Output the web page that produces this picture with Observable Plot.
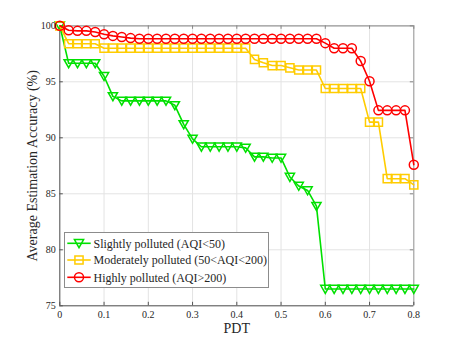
<!DOCTYPE html>
<html><head><meta charset="utf-8">
<script src="https://cdn.jsdelivr.net/npm/d3@7"></script>
<script src="https://cdn.jsdelivr.net/npm/@observablehq/plot@0.6"></script>
<style>
body{margin:0;background:#fff;}
#wrap{position:relative;width:457px;height:343px;}
#legend{position:absolute;left:64px;top:232px;width:205px;height:56px;}
</style></head><body><div id="wrap"></div>
<script>
const pdt = [0,0.02,0.04,0.06,0.08,0.1,0.12,0.14,0.16,0.18,0.2,0.22,0.24,0.26,0.28,0.3,0.32,0.34,0.36,0.38,0.4,0.42,0.44,0.46,0.48,0.5,0.52,0.54,0.56,0.58,0.6,0.62,0.64,0.66,0.68,0.7,0.72,0.74,0.76,0.78,0.8];
const slightly = [100,96.65,96.65,96.65,96.65,95.5,93.7,93.3,93.3,93.3,93.3,93.3,93.3,92.9,91.2,89.9,89.2,89.2,89.2,89.2,89.2,89.1,88.3,88.3,88.2,88.2,86.5,85.7,85.3,83.9,76.5,76.5,76.5,76.5,76.5,76.5,76.5,76.5,76.5,76.5,76.5];
const moderately = [100,98.4,98.4,98.4,98.4,98.0,98.0,98.0,98.0,98.0,98.0,98.0,98.0,98.0,98.0,98.0,98.0,98.0,98.0,98.0,98.0,98.0,97.0,96.7,96.45,96.45,96.25,96.05,96.05,96.05,94.4,94.4,94.4,94.4,94.4,91.4,91.4,86.35,86.35,86.35,85.8];
const highly = [100,99.6,99.55,99.55,99.45,99.25,99.1,99.0,98.9,98.85,98.85,98.85,98.85,98.85,98.85,98.85,98.85,98.85,98.85,98.85,98.85,98.85,98.85,98.85,98.85,98.85,98.85,98.85,98.85,98.85,98.45,98.0,98.0,98.0,96.85,95.05,92.45,92.45,92.45,92.45,87.6];
const seriesNames = ["Slightly polluted (AQI<50)", "Moderately polluted (50<AQI<200)", "Highly polluted (AQI>200)"];
const seriesColors = ["#00e000", "#ffcc00", "#ff0000"];
const xTicks = [0,0.1,0.2,0.3,0.4,0.5,0.6,0.7,0.8];
const yTicks = [75,80,85,90,95,100];
const xLabel = "PDT";
const yLabel = "Average Estimation Accuracy (%)";

const triDown = {draw(ctx, size){ const r = Math.sqrt(size/Math.PI); ctx.moveTo(-r, -0.8*r); ctx.lineTo(r, -0.8*r); ctx.lineTo(0, 0.95*r); ctx.closePath(); }};
const symbols = [triDown, d3.symbolSquare, d3.symbolCircle];
const radii = [4.6, 4.6, 4.5];

const W = 457, H = 343;
const mL = 59.3, mR = 43.7, mT = 25.3, mB = 37.7;
const iw = W - mL - mR, ih = H - mT - mB;
const tl = 3.5;

const allSeries = [slightly, moderately, highly];
const tables = allSeries.map((vals, s) => pdt.map((x, i) => ({x, y: vals[i], s})));

const marks = [
  Plot.gridX(xTicks, {stroke: "#e3e3e3", strokeOpacity: 1}),
  Plot.gridY(yTicks, {stroke: "#e3e3e3", strokeOpacity: 1}),
  Plot.ruleX([xTicks[xTicks.length-1]], {stroke: "#9a9a9a"}),
  Plot.ruleY([yTicks[yTicks.length-1]], {stroke: "#9a9a9a", strokeWidth: 1.2}),
  Plot.ruleX([xTicks[0]], {stroke: "#555"}),
  Plot.ruleY([yTicks[0]], {stroke: "#555"}),
  Plot.tickX(xTicks, {x: d => d, insetTop: ih - tl, stroke: "#555"}),
  Plot.tickX(xTicks, {x: d => d, insetBottom: ih - tl, stroke: "#888"}),
  Plot.tickY(yTicks, {y: d => d, insetRight: iw - tl, stroke: "#555"}),
  Plot.tickY(yTicks, {y: d => d, insetLeft: iw - tl, stroke: "#888"}),
];
tables.forEach((t, s) => {
  marks.push(Plot.line(t, {x: "x", y: "y", stroke: seriesColors[s], strokeWidth: 1.6}));
  marks.push(Plot.dot(t, {x: "x", y: "y", stroke: seriesColors[s], fill: "none", strokeWidth: 1.5, r: radii[s], symbol: symbols[s]}));
});
marks.push(
  Plot.axisX({ticks: xTicks, tickSize: 0, tickPadding: 5, tickFormat: d => String(d), label: null}),
  Plot.axisY({ticks: yTicks, tickSize: 0, tickPadding: 4, tickFormat: d => String(d), label: null}),
  Plot.text([xLabel], {text: d => d, frameAnchor: "bottom", textAnchor: "middle", lineAnchor: "middle", dy: 22.5, fontSize: 14, fill: "#262626"}),
  Plot.text([yLabel], {text: d => d, frameAnchor: "left", textAnchor: "middle", lineAnchor: "middle", rotate: -90, dx: -27.3, fontSize: 14, fill: "#262626"})
);

const chart = Plot.plot({
  width: W, height: H,
  marginLeft: mL, marginRight: mR, marginTop: mT, marginBottom: mB,
  x: {domain: [0, 0.8]},
  y: {domain: [75, 100]},
  style: {fontFamily: "'Liberation Serif', 'Times New Roman', serif", fontSize: "10px", color: "#262626", background: "#fff", overflow: "visible"},
  marks
});
const wrap = document.getElementById("wrap");
wrap.appendChild(chart);

// legend overlay
const lg = d3.select(wrap).append("div").attr("id", "legend");
const svg = lg.append("svg").attr("width", 205).attr("height", 56)
  .style("font-family", "'Liberation Serif', 'Times New Roman', serif").style("overflow", "visible");
svg.append("rect").attr("x", 0.5).attr("y", 0.5).attr("width", 204).attr("height", 55)
  .attr("fill", "#fff").attr("stroke", "#8c8c8c").attr("stroke-width", 1);
const rows = [11.3, 28, 45.3];
seriesNames.forEach((name, s) => {
  const g = svg.append("g").attr("transform", `translate(0,${rows[s]})`);
  g.append("line").attr("x1", 3.3).attr("x2", 26.7).attr("y1", 0).attr("y2", 0)
    .attr("stroke", seriesColors[s]).attr("stroke-width", 1.6);
  g.append("path").attr("transform", "translate(15,0)")
    .attr("d", d3.symbol().type(symbols[s]).size(Math.PI * radii[s] * radii[s])())
    .attr("fill", "none").attr("stroke", seriesColors[s]).attr("stroke-width", 1.5);
  g.append("text").attr("x", 29.5).attr("y", 0).attr("dy", "0.35em")
    .attr("font-size", 12).attr("fill", "#262626").text(name);
});
</script></body></html>
